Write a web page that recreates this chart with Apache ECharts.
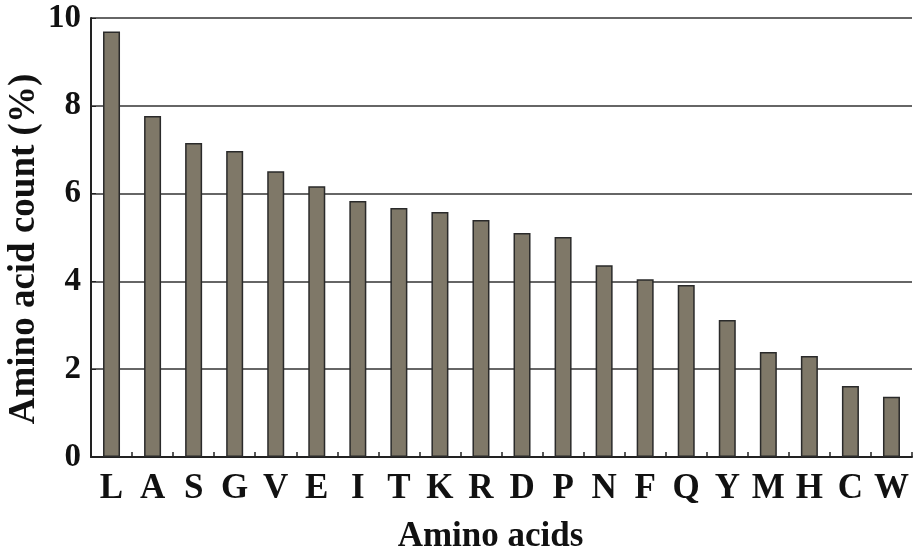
<!DOCTYPE html>
<html><head><meta charset="utf-8">
<script src="https://cdn.jsdelivr.net/npm/echarts@6/dist/echarts.min.js"></script>
<style>html,body{margin:0;padding:0;background:#fff}#c{width:913px;height:552px}</style>
</head><body><div id="c"></div>
<script>
const categories = ["L","A","S","G","V","E","I","T","K","R","D","P","N","F","Q","Y","M","H","C","W"];
const values = [9.69,7.77,7.15,6.97,6.51,6.17,5.83,5.67,5.58,5.40,5.10,5.01,4.37,4.05,3.92,3.12,2.39,2.30,1.62,1.37];
const yTicks = [0,2,4,6,8,10];
const yTitle = 'Amino acid count (%)';
const font = "Liberation Serif";
const chart = echarts.init(document.getElementById('c'));
chart.setOption({
  animation:false,
  grid:{left:91,right:1,top:18,bottom:95,containLabel:false,outerBoundsMode:'none'},
  graphic:[{type:'text',x:24,y:249,rotation:Math.PI/2,
    style:{text:yTitle,fontFamily:font,fontWeight:'bold',fontSize:37,fill:'#111',
      align:'center',verticalAlign:'middle'}}],
  xAxis:{type:'category',data:categories,
    name:'Amino acids',nameLocation:'middle',nameGap:62,
    nameTextStyle:{fontFamily:font,fontWeight:'bold',fontSize:35,color:'#111',padding:[0,22,0,0]},
    axisLine:{lineStyle:{color:'#222',width:2}},
    axisTick:{show:true,inside:true,length:5,lineStyle:{color:'#222',width:1.5}},
    axisLabel:{interval:0,fontFamily:font,fontWeight:'bold',fontSize:35,color:'#111',margin:14}},
  yAxis:{type:'value',min:0,max:10,interval:2,
    axisLine:{show:true,lineStyle:{color:'#222',width:2}},
    axisTick:{show:true,inside:true,length:5,lineStyle:{color:'#222'}},
    axisLabel:{fontFamily:font,fontWeight:'bold',fontSize:33,color:'#111',margin:10,
      formatter:v=>yTicks.includes(v)?String(v):''},
    splitLine:{show:true,lineStyle:{color:'#333',width:1.5}}},
  series:[{type:'bar',data:values,barWidth:17,
    itemStyle:{color:'#7f7868',borderColor:'#2a2a2a',borderWidth:1.5}}]
});
</script></body></html>
